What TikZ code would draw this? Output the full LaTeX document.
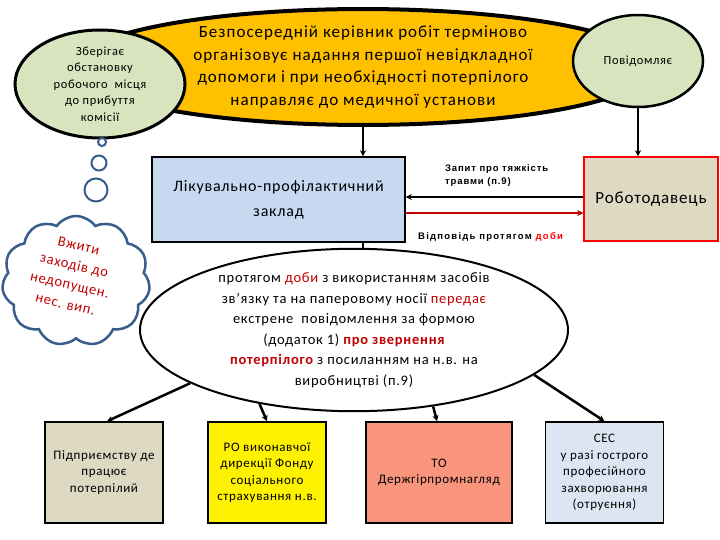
\documentclass[tikz,border=0pt]{standalone}
\usepackage{fontspec}
\setmainfont{Carlito}[LetterSpace=5]
\newfontfamily\arialfont{Liberation Sans}[LetterSpace=9]
\usepackage{tikz}
\usetikzlibrary{arrows.meta, shapes.geometric, shapes.symbols}
\definecolor{my_gold}{HTML}{FFC000}
\definecolor{my_sage}{HTML}{D7E4BD}
\definecolor{my_sky}{HTML}{C6D9F1}
\definecolor{my_sand}{HTML}{DDD9C3}
\definecolor{my_salmon}{HTML}{F9957D}
\definecolor{my_pale}{HTML}{DCE6F2}
\definecolor{my_slate}{HTML}{385D8A}
\definecolor{my_red}{HTML}{C00000}

\begin{document}
\begin{tikzpicture}[
    x=1pt, y=-1pt,
    link/.style={draw=black, line width=2.5pt, -{Stealth[length=6pt, width=6pt]}},
    oval/.style={ellipse, draw=black, align=center, inner sep=0pt},
    card/.style={rectangle, draw=black, line width=1.5pt, align=center,
        minimum width=118pt, minimum height=101pt, inner sep=2pt,
        font=\fontsize{13}{16.5}\selectfont},
    bubble/.style={circle, draw=my_slate, line width=2pt, fill=white, inner sep=0pt},
    tag/.style={font=\arialfont\bfseries\fontsize{9.5}{13}\selectfont, align=left, inner sep=0pt}
]
\fill[white] (0,0) rectangle (720,540);
\useasboundingbox (0,0) rectangle (720,540);

% --- Top row: ellipses ---
\node[oval, fill=my_gold, line width=4pt, minimum width=580pt, minimum height=112pt,
    font=\addfontfeatures{LetterSpace=6}\fontsize{17}{22.5}\selectfont] (boss) at (363,67)
    {Безпосередній керівник робіт терміново\\
     організовує надання першої невідкладної\\
     допомоги і при необхідності потерпілого\\
     направляє до медичної установи};
\node[oval, fill=my_sage, line width=3pt, minimum width=170pt, minimum height=108pt,
    font=\fontsize{12.5}{16.5}\selectfont] (keep) at (100,84)
    {Зберігає\\обстановку\\робочого~ місця\\до прибуття\\комісії};
\node[oval, fill=my_sage, line width=2.5pt, minimum width=130pt, minimum height=92pt,
    font=\fontsize{12.5}{15}\selectfont] (notify) at (638,61) {Повідомляє};

% --- Thought bubbles and cloud ---
\node[bubble, minimum size=8pt]  (dot1) at (102,142) {};
\node[bubble, minimum size=15pt] (dot2) at (99,163) {};
\node[bubble, minimum size=23pt] (dot3) at (96,190) {};
\node[cloud, cloud puffs=11, cloud puff arc=110, cloud ignores aspect, draw=my_slate,
    line width=2.5pt, fill=white, minimum width=148pt, minimum height=130pt] (cloudy) at (76,281) {};
\node[rotate=-13, text=my_red, align=center, font=\fontsize{14.5}{20}\selectfont] (act)
    at (72,275) {Вжити\\заходів до\\недопущен.\\нес. вип.};

% --- Middle row: boxes ---
\node[rectangle, draw=black, line width=1.5pt, fill=my_sky, minimum width=253pt,
    minimum height=85pt, align=center, font=\fontsize{16}{25}\selectfont] (clinic)
    at (278.5,199.5) {Лікувально-профілактичний\\заклад};
\node[rectangle, draw=red, line width=1.5pt, fill=my_sand, minimum width=134pt,
    minimum height=84pt, font=\fontsize{17}{20}\selectfont] (employer)
    at (651,199) {Роботодавець};

% Request and reply between clinic and employer
\draw[link] ([yshift=2pt]employer.west) -- ([yshift=2pt]employer.west -| clinic.east);
\draw[link, draw=my_red] ([yshift=-13.5pt]clinic.east) -- ([yshift=-13.5pt]clinic.east -| employer.west);
\node[tag, anchor=north west] (ask) at (445,164) {Запит про тяжкість\\травми (п.9)};
\node[tag, anchor=west, font=\arialfont\bfseries\addfontfeatures{LetterSpace=13}\fontsize{9.5}{13}\selectfont]
    (reply) at (418,237) {Відповідь протягом \textcolor{red}{доби}};

% --- Emergency notice ---
\node[oval, line width=2pt, fill=white, minimum width=428pt, minimum height=134pt,
    font=\fontsize{14.5}{20.5}\selectfont] (notice) at (354,330)
    {протягом \textcolor{my_red}{доби} з використанням засобів\\
     зв'язку та на паперовому носії \textcolor{my_red}{передає}\\
     екстрене~ повідомлення за формою\\
     (додаток 1) \textcolor{my_red}{\bfseries про звернення}\\
     \textcolor{my_red}{\bfseries потерпілого} з посиланням на н.в. на\\
     виробництві (п.9)};

% --- Bottom row: recipients ---
\node[card, fill=my_sand]   (works)   at (104,472.5) {Підприємству де\\працює\\потерпілий};
\node[card, fill=yellow]    (fund)    at (267,472.5) {РО виконавчої\\дирекції Фонду\\соціального\\страхування н.в.};
\node[card, fill=my_salmon, minimum width=146pt] (inspect) at (439,472.5) {ТО\\Держгірпромнагляд};
\node[card, fill=my_pale]   (sanit)   at (604.5,472.5) {СЕС\\у разі гострого\\професійного\\захворювання\\(отруєння)};

% --- Connectors ---
\draw[link] (boss.south) -- (boss.south |- clinic.north);
\draw[link] (notify.south) -- (notify.south |- employer.north);
\draw[line width=2.5pt] (boss.south |- clinic.south) -- (boss.south |- notice.north);
\draw[link] (notice.198) -- ([xshift=3pt]works.north);
\draw[link] (notice.218) -- (fund.north);
\draw[link] (notice.316) -- ([xshift=-2pt]inspect.north);
\draw[link] (notice.346) -- (sanit.north);

\end{tikzpicture}
\end{document}
